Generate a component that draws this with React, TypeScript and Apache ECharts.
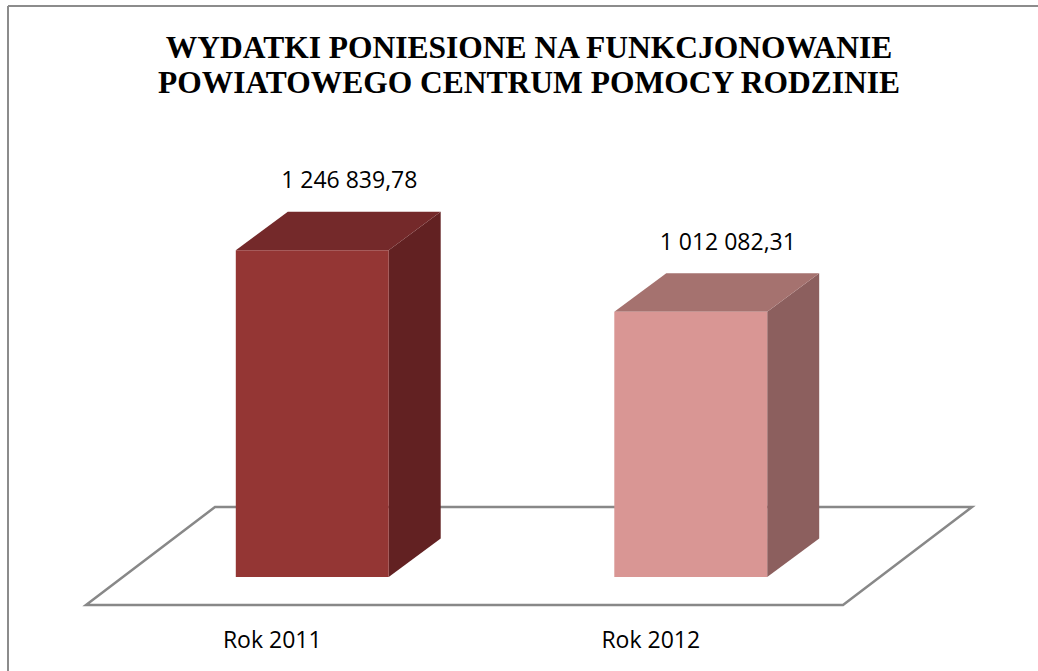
import React, { useEffect, useRef } from 'react';
import * as echarts from 'echarts';

const titleLines = ['WYDATKI PONIESIONE NA FUNKCJONOWANIE', 'POWIATOWEGO CENTRUM POMOCY RODZINIE'];
const categories = ['Rok 2011', 'Rok 2012'];
const values = [1246839.78, 1012082.31];
const frontColors = ['#943634', '#D99694'];
const topColors = ['#74292A', '#A5726F'];
const sideColors = ['#622122', '#8C5F5E'];
const yMin = 0;
const yMax = 1400000;

function formatPL(v: number): string {
  const [i, d] = v.toFixed(2).split('.');
  return i.replace(/\B(?=(\d{3})+(?!\d))/g, ' ') + ',' + d;
}

// 3D projection constants (pixels)
const DX = 52;
const DY = 38.5;
const FLOOR_FRONT = [-37, 28];
const FLOOR_BACK = [92, -70];
const BAR_RATIO = 0.404;

export default function App() {
  const ref = useRef<HTMLDivElement>(null);
  useEffect(() => {
    if (!ref.current) return;
    const chart = echarts.init(ref.current, null, { renderer: 'svg' });
    const option: any = {
      animation: false,
      backgroundColor: '#ffffff',
      grid: { left: 123, right: 158, top: 210, bottom: 94 },
      xAxis: { type: 'category', data: categories, show: false },
      yAxis: { type: 'value', min: yMin, max: yMax, show: false },
      graphic: [
        {
          type: 'line',
          shape: { x1: 8, y1: 6, x2: 1038, y2: 6 },
          style: { stroke: '#8c8c8c', lineWidth: 2 },
        },
        {
          type: 'line',
          shape: { x1: 8, y1: 6, x2: 8, y2: 671 },
          style: { stroke: '#8c8c8c', lineWidth: 2 },
        },
        {
          type: 'text',
          x: 529,
          y: 65,
          scaleY: 1.03,
          style: {
            text: titleLines.join('\n'),
            textAlign: 'center',
            textVerticalAlign: 'middle',
            fontFamily: '"Liberation Serif", "Times New Roman", serif',
            fontWeight: 'bold',
            fontSize: 31.5,
            lineHeight: 34,
            fill: '#000000',
          },
        },
      ],
      series: [
        {
          type: 'custom',
          name: 'floor',
          z: 1,
          silent: true,
          data: [[0, 0]],
          renderItem: (params: any) => {
            const cs = params.coordSys;
            const by = cs.y + cs.height;
            const lx = cs.x;
            const rx = cs.x + cs.width;
            return {
              type: 'polygon',
              shape: {
                points: [
                  [lx + FLOOR_FRONT[0], by + FLOOR_FRONT[1]],
                  [rx + FLOOR_FRONT[0], by + FLOOR_FRONT[1]],
                  [rx + FLOOR_BACK[0], by + FLOOR_BACK[1]],
                  [lx + FLOOR_BACK[0], by + FLOOR_BACK[1]],
                ],
              },
              style: { fill: '#ffffff', stroke: '#888888', lineWidth: 2.5 },
            };
          },
        },
        {
          type: 'custom',
          name: 'Wydatki',
          z: 2,
          data: values.map((v, i) => [i, v]),
          encode: { x: 0, y: 1 },
          renderItem: (params: any, api: any) => {
            const idx = api.value(0);
            const val = api.value(1);
            const base = api.coord([idx, 0]);
            const top = api.coord([idx, val]);
            const band = api.size([1, 0])[0];
            const w = band * BAR_RATIO;
            const x0 = base[0] - w / 2;
            const x1 = base[0] + w / 2;
            const yb = base[1];
            const yt = top[1];
            return {
              type: 'group',
              children: [
                {
                  type: 'polygon',
                  shape: { points: [[x1, yt], [x1 + DX, yt - DY], [x1 + DX, yb - DY], [x1, yb]] },
                  style: { fill: sideColors[idx] },
                },
                {
                  type: 'polygon',
                  shape: { points: [[x0, yt], [x0 + DX, yt - DY], [x1 + DX, yt - DY], [x1, yt]] },
                  style: { fill: topColors[idx] },
                },
                {
                  type: 'rect',
                  shape: { x: x0, y: yt, width: w, height: yb - yt },
                  style: { fill: frontColors[idx] },
                },
                {
                  type: 'text',
                  x: base[0] + 37,
                  y: yt - 71,
                  style: {
                    text: formatPL(val),
                    textAlign: 'center',
                    textVerticalAlign: 'middle',
                    fontFamily: '"Open Sans", sans-serif',
                    fontSize: 23,
                    fill: '#000000',
                  },
                },
                {
                  type: 'text',
                  x: base[0] - 40,
                  y: yb + 62,
                  style: {
                    text: categories[idx],
                    textAlign: 'center',
                    textVerticalAlign: 'middle',
                    fontFamily: '"Open Sans", sans-serif',
                    fontSize: 23,
                    fill: '#000000',
                  },
                },
              ],
            };
          },
        },
      ],
    };
    chart.setOption(option);
    return () => chart.dispose();
  }, []);
  return (
    <div
      ref={ref}
      style={{ position: 'fixed', left: 0, top: 0, width: 1038, height: 671, background: '#fff' }}
    />
  );
}
